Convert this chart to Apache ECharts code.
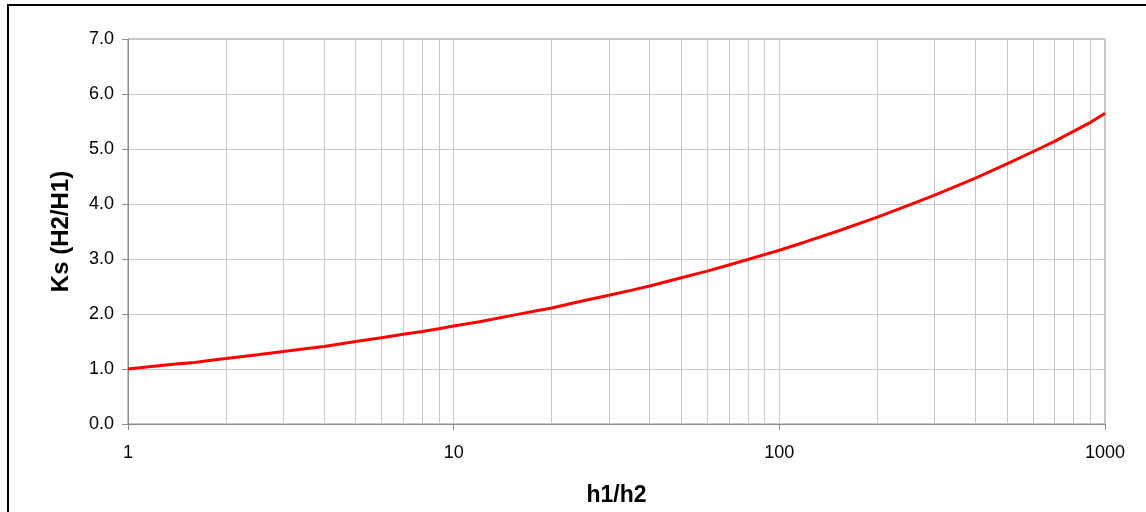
<!DOCTYPE html>
<html>
<head>
<meta charset="utf-8">
<script src="https://cdn.jsdelivr.net/npm/echarts@6/dist/echarts.min.js"></script>
<style>
  html, body { margin: 0; padding: 0; background: #fff; }
  #wrap { position: relative; width: 1146px; height: 512px; overflow: hidden; }
  #chart { position: absolute; left: 0; top: 0; width: 1146px; height: 512px; }
  #frame { position: absolute; left: 7px; top: 4px; width: 1200px; height: 600px; border: 2px solid #000; pointer-events: none; }
</style>
</head>
<body>
<div id="wrap">
  <div id="chart"></div>
  <div id="frame"></div>
</div>
<script>
// Data
const ratioH = [1, 1.2, 1.4, 1.6, 1.8, 2, 2.5, 3, 3.5, 4, 5, 6, 7, 8, 9, 10, 12, 15, 18, 20, 25, 30, 35, 40, 50, 60, 70, 80, 90, 100, 120, 150, 200, 250, 300, 400, 500, 600, 700, 800, 900, 1000];
const ksValues = [1.00, 1.05, 1.09, 1.12, 1.16, 1.19, 1.26, 1.32, 1.37, 1.41, 1.50, 1.57, 1.63, 1.68, 1.73, 1.78, 1.86, 1.97, 2.06, 2.11, 2.24, 2.34, 2.43, 2.51, 2.66, 2.78, 2.89, 2.99, 3.08, 3.16, 3.31, 3.50, 3.76, 3.98, 4.16, 4.47, 4.73, 4.95, 5.14, 5.32, 5.48, 5.65];
const minorGridX = [2, 3, 4, 5, 6, 7, 8, 9, 20, 30, 40, 50, 60, 70, 80, 90, 200, 300, 400, 500, 600, 700, 800, 900];
const xTitle = 'h1/h2';
const yTitle = 'Ks (H2/H1)';

const chart = echarts.init(document.getElementById('chart'), null, { renderer: 'canvas' });
const font = '"Liberation Sans", Arial, sans-serif';
const points = ratioH.map((h, i) => [h, ksValues[i]]);

chart.setOption({
  animation: false,
  backgroundColor: '#fff',
  grid: {
    left: 128, right: 41, top: 39, bottom: 88,
    show: true, borderColor: '#8c8c8c', borderWidth: 1, backgroundColor: 'transparent'
  },
  xAxis: {
    type: 'log', logBase: 10, min: 1, max: 1000,
    name: xTitle, nameLocation: 'middle', nameGap: 60,
    nameTextStyle: { fontFamily: font, fontWeight: 'bold', fontSize: 23, color: '#000' },
    axisLine: { lineStyle: { color: '#8c8c8c', width: 1 } },
    axisTick: { show: true, length: 6, lineStyle: { color: '#8c8c8c' } },
    axisLabel: { fontFamily: font, fontSize: 18, color: '#000', margin: 20, formatter: v => String(Math.round(v)) },
    splitLine: { show: true, lineStyle: { color: '#c8c8c8', width: 1 } },
    minorTick: { show: false },
    minorSplitLine: { show: false }
  },
  yAxis: {
    type: 'value', min: 0, max: 7, interval: 1,
    name: yTitle, nameLocation: 'middle', nameGap: 55, nameRotate: 90,
    nameTextStyle: { fontFamily: font, fontWeight: 'bold', fontSize: 24, color: '#000' },
    axisLine: { show: true, lineStyle: { color: '#8c8c8c', width: 1 } },
    axisTick: { show: true, length: 6, lineStyle: { color: '#8c8c8c' } },
    axisLabel: { fontFamily: font, fontSize: 18, color: '#000', margin: 14, formatter: v => v.toFixed(1) },
    splitLine: { show: true, lineStyle: { color: '#c8c8c8', width: 1 } }
  },
  series: [{
    type: 'line',
    data: points,
    showSymbol: false,
    symbol: 'none',
    smooth: false,
    z: 5,
    lineStyle: { color: '#ff0000', width: 3 },
    markLine: {
      silent: true,
      symbol: 'none',
      z: 1,
      label: { show: false },
      emphasis: { disabled: true },
      lineStyle: { color: '#c8c8c8', width: 1, type: 'solid' },
      data: minorGridX.map(v => ({ xAxis: v }))
    }
  }]
});
</script>
</body>
</html>
